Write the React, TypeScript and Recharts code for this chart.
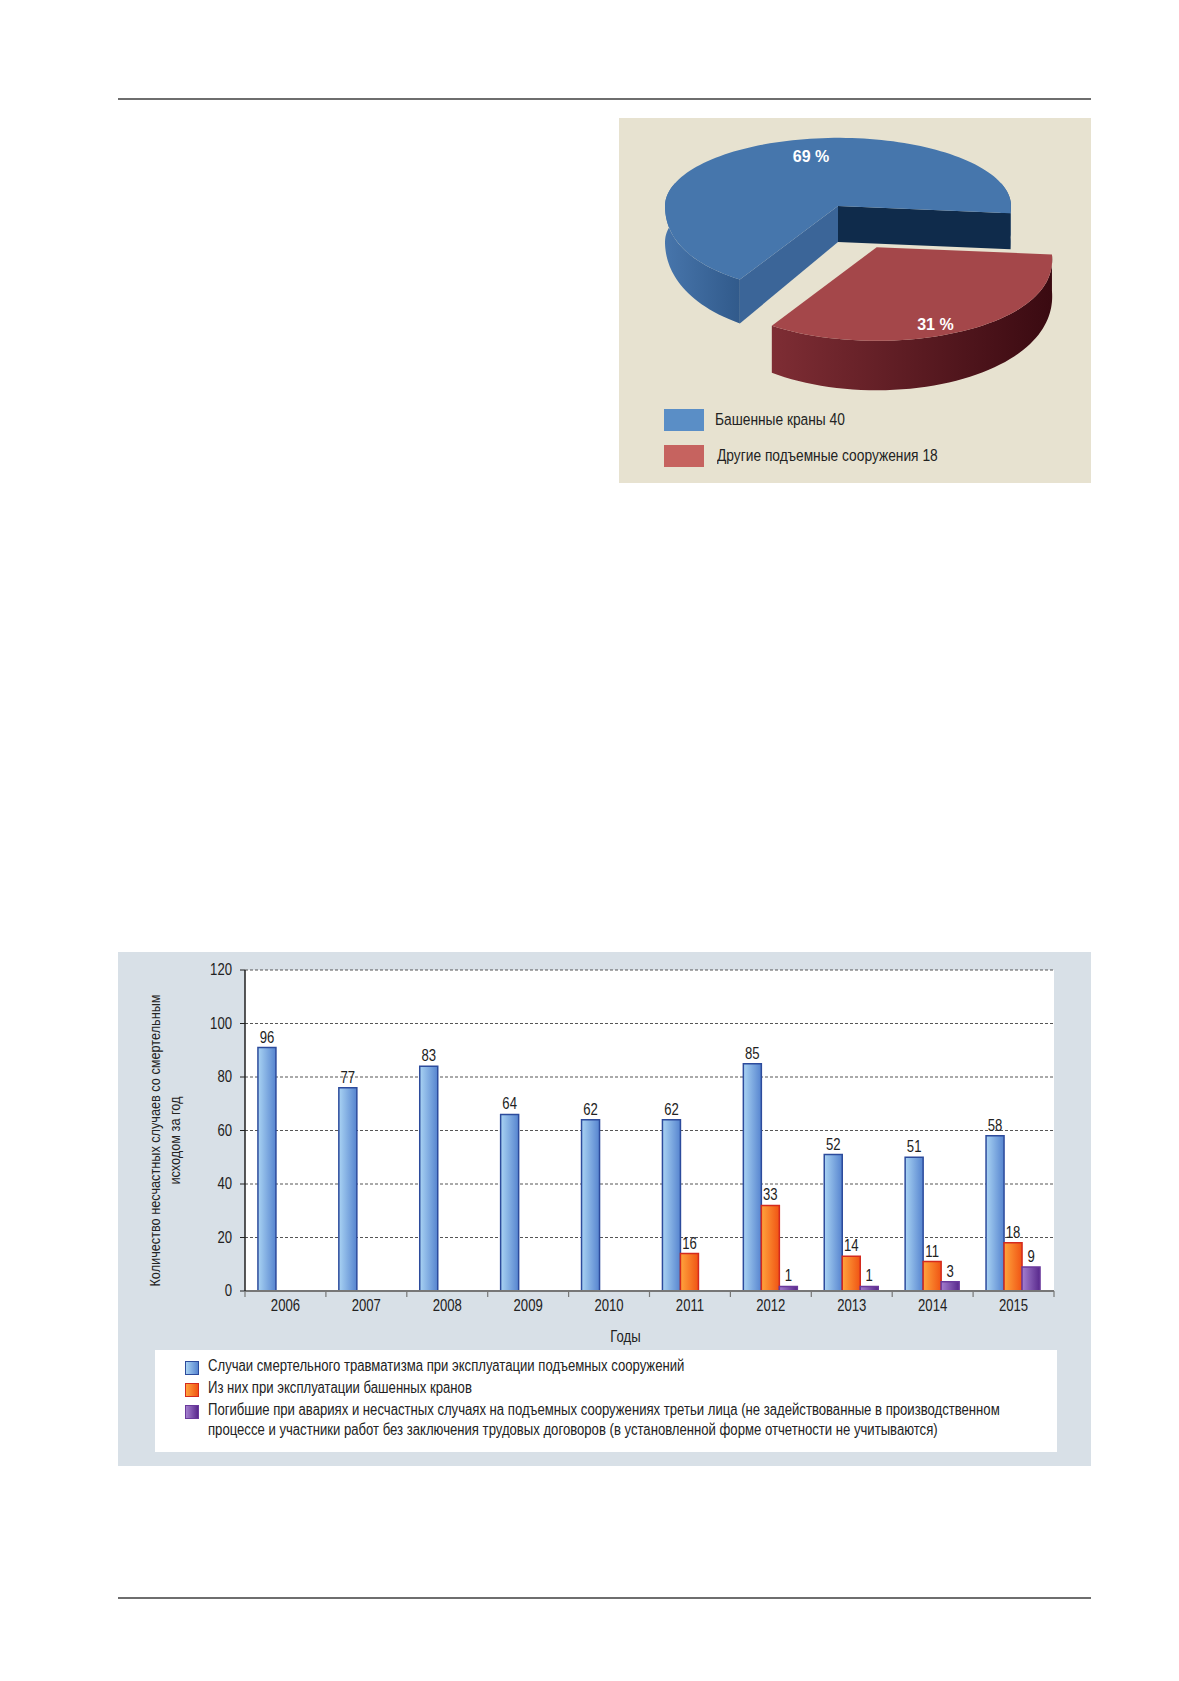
import React from 'react';
import { Bar, BarChart, CartesianGrid, LabelList, Pie, PieChart, XAxis, YAxis } from 'recharts';

// ---- bar chart data ----
const years = ['2006', '2007', '2008', '2009', '2010', '2011', '2012', '2013', '2014', '2015'];
// bar heights as drawn in the figure
const totalValues = [91, 76, 84, 66, 64, 64, 85, 51, 50, 58];
const towerValues = [null, null, null, null, null, 14, 32, 13, 11, 18];
const thirdValues = [null, null, null, null, null, 0, 1.7, 1.7, 3.5, 9];
// numbers printed above the bars
const totalLabels = [96, 77, 83, 64, 62, 62, 85, 52, 51, 58];
const towerLabels = [null, null, null, null, null, 16, 33, 14, 11, 18];
const thirdLabels = [null, null, null, null, null, 0, 1, 1, 3, 9];

const seriesNames = [
  'Случаи смертельного травматизма при эксплуатации подъемных сооружений',
  'Из них при эксплуатации башенных кранов',
  'Погибшие при авариях и несчастных случаях на подъемных сооружениях третьи лица (не задействованные в производственном процессе и участники работ без заключения трудовых договоров (в установленной форме отчетности не учитываются)',
];
const yTicks = [0, 20, 40, 60, 80, 100, 120];
const yTitle = ['Количество несчастных случаев со смертельным', 'исходом за год'];
const xTitle = 'Годы';

// ---- pie data ----
const pieNames = ['Башенные краны', 'Другие подъемные сооружения'];
const pieCounts = [40, 18];
const explodedSlice = 'Другие подъемные сооружения';

// the original uses a condensed grotesque: Liberation Sans squeezed horizontally
const FONT = "'Liberation Sans', Arial, sans-serif";
const SX = 0.82;
const squeeze = (x: number, y: number) => `translate(${x} ${y}) scale(${SX} 1) translate(${-x} ${-y})`;

const barData = years.map((year, i) => ({
  year,
  total: totalValues[i],
  totalLabel: totalLabels[i],
  tower: towerValues[i],
  towerLabel: towerLabels[i],
  third: thirdValues[i],
  thirdLabel: thirdLabels[i],
}));

const pieData = pieNames.map((name, i) => ({ name, value: pieCounts[i] }));

const seriesLook = [
  { key: 'total', grad: 'gBlue', from: '#a9d3f3', to: '#5684cf', stroke: '#2c4b9c' },
  { key: 'tower', grad: 'gOrange', from: '#ffa43c', to: '#f05414', stroke: '#d42a1e' },
  { key: 'third', grad: 'gPurple', from: '#a47fce', to: '#58288c', stroke: '#6a3a9c' },
];

const pieLook = [
  { top: '#4676ac', legend: '#5a8ec6', wall: ['#4775ab', '#315a8b'], startFace: '#0f2b4b', endFace: '#3b6598', lab: [0.33, 0.82] },
  { top: '#a4474a', legend: '#c6635f', wall: ['#7e2d34', '#3a0a11'], startFace: '#6b1f25', endFace: '#6b1f25', lab: [0.72, 1.28] },
];

const RAD = Math.PI / 180;
const TILT = 0.394; // vertical squash of the disc
const PERSP = 0.28; // front of the disc is drawn larger
const DEPTH = 36;
const EXPLODE = 82;
const EXPLODE_TILT = 0.57;
const EXPLODE_DEPTH = 0.37;

// draws the tilted slice (walls, cut faces, top) and its percentage from the sector geometry Recharts computes
function Slice3D(props: any) {
  const { cx, cy, outerRadius: r, startAngle: sa, endAngle: ea, name, percent } = props;
  const idx = Math.max(0, pieNames.indexOf(name));
  const look = pieLook[idx];
  const exploded = name === explodedSlice;
  const mid = (sa + ea) / 2;
  const cos = (a: number) => Math.cos(a * RAD);
  const sin = (a: number) => Math.sin(a * RAD);
  const ox = exploded ? cx + cos(mid) * EXPLODE : cx;
  const oy = exploded ? cy - sin(mid) * EXPLODE * EXPLODE_TILT : cy;
  const zc = exploded ? sin(mid) * EXPLODE * EXPLODE_DEPTH : 0;
  const scale = (z: number) => {
    const f = Math.max(0, -z) / r;
    return 1 + PERSP * f * f;
  };
  const s0 = scale(zc);
  const pt = (a: number, h = 0): [number, number] => {
    const s = scale(zc + r * sin(a));
    return [ox + r * cos(a) * s, oy - r * sin(a) * TILT * s + h * s];
  };
  const arc = (a1: number, a2: number, h: number) => {
    const n = Math.max(2, Math.ceil(Math.abs(a2 - a1) / 2));
    const pts: [number, number][] = [];
    for (let i = 0; i <= n; i++) pts.push(pt(a1 + ((a2 - a1) * i) / n, h));
    return pts;
  };
  const poly = (pts: [number, number][]) => pts.map((p) => `${p[0].toFixed(2)},${p[1].toFixed(2)}`).join(' ');

  // outer wall: front half plus a little margin, the rest is hidden under the top
  const walls: [number, number][] = [];
  for (let k = -1; k <= 1; k++) {
    const lo = Math.max(sa, 160 + 360 * k);
    const hi = Math.min(ea, 380 + 360 * k);
    if (hi > lo) walls.push([lo, hi]);
  }
  const face = (a: number): [number, number][] => [[ox, oy], pt(a), pt(a, DEPTH), [ox, oy + DEPTH * s0]];
  const gid = `pieWall${idx}`;

  const lx = ox + cos(mid) * r * look.lab[0];
  const ly = oy - sin(mid) * r * TILT * look.lab[1];

  return (
    <g>
      <defs>
        <linearGradient id={gid} x1="0" y1="0" x2="1" y2="0">
          <stop offset="0%" stopColor={look.wall[0]} />
          <stop offset="100%" stopColor={look.wall[1]} />
        </linearGradient>
      </defs>
      {walls.map(([lo, hi]) => (
        <polygon key={lo} points={poly([...arc(lo, hi, 0), ...arc(hi, lo, DEPTH)])} fill={`url(#${gid})`} />
      ))}
      {cos(sa) > 0 && <polygon points={poly(face(sa))} fill={look.startFace} />}
      {cos(ea) < 0 && <polygon points={poly(face(ea))} fill={look.endFace} />}
      <polygon points={poly([[ox, oy], ...arc(sa, ea, 0)])} fill={look.top} />
      <text
        x={lx}
        y={ly}
        textAnchor="middle"
        dominantBaseline="central"
        fill="#fff"
        style={{ fontFamily: FONT, fontWeight: 700, fontSize: 16 }}
      >
        {`${Math.round(percent * 100)} %`}
      </text>
    </g>
  );
}

function YearTick(props: any) {
  const { x, y, payload, index } = props;
  const half = payload.offset || 40.45;
  const axisY = y - 8;
  const ty = y + 7;
  return (
    <g>
      <line x1={x - half} y1={axisY} x2={x - half} y2={axisY + 6} stroke="#777" strokeWidth={1.2} />
      {index === years.length - 1 && (
        <line x1={x + half} y1={axisY} x2={x + half} y2={axisY + 6} stroke="#777" strokeWidth={1.2} />
      )}
      <text
        x={x}
        y={ty}
        transform={squeeze(x, ty)}
        textAnchor="middle"
        dominantBaseline="central"
        fill="#222"
        style={{ fontFamily: FONT, fontSize: 16 }}
      >
        {payload.value}
      </text>
    </g>
  );
}

function ValueTick(props: any) {
  const { x, y, payload } = props;
  return (
    <text
      x={x}
      y={y}
      transform={squeeze(x, y)}
      textAnchor="end"
      dominantBaseline="central"
      fill="#222"
      style={{ fontFamily: FONT, fontSize: 16 }}
    >
      {payload.value}
    </text>
  );
}

function BarValue(props: any) {
  const { value } = props;
  if (value === null || value === undefined) return null;
  const vb = props.viewBox && props.viewBox.width !== undefined ? props.viewBox : props;
  const x = Number(vb.x) + Number(vb.width) / 2;
  const y = Number(vb.y) - 5;
  return (
    <text
      x={x}
      y={y}
      transform={squeeze(x, y)}
      textAnchor="middle"
      fill="#222"
      style={{ fontFamily: FONT, fontSize: 16 }}
    >
      {value}
    </text>
  );
}

function YTitle(props: any) {
  const vb = props.viewBox || { x: 0, y: 18, width: 127, height: 321 };
  const cy = vb.y + vb.height / 2 + 10;
  return (
    <g style={{ fontFamily: FONT, fontSize: 15.5 }} fill="#222">
      {yTitle.map((line, i) => {
        const x = vb.x + 37 + i * 20;
        return (
          <text
            key={i}
            x={x}
            y={cy}
            transform={`rotate(-90 ${x} ${cy}) ${squeeze(x, cy)}`}
            textAnchor="middle"
            dominantBaseline="central"
          >
            {line}
          </text>
        );
      })}
    </g>
  );
}

function XTitle(props: any) {
  const vb = props.viewBox || { x: 127, y: 339, width: 809, height: 30 };
  const x = vb.x + vb.width / 2 - 24;
  const y = vb.y + 46;
  return (
    <text
      x={x}
      y={y}
      transform={squeeze(x, y)}
      textAnchor="middle"
      dominantBaseline="central"
      fill="#222"
      style={{ fontFamily: FONT, fontSize: 16 }}
    >
      {xTitle}
    </text>
  );
}

const narrowHtml = (width: number): React.CSSProperties => ({
  width: width / SX,
  transform: `scaleX(${SX})`,
  transformOrigin: 'left center',
});

export default function App() {
  return (
    <div style={{ position: 'absolute', left: 0, top: 0, width: 1179, height: 1681, background: '#fff' }}>
      <div style={{ position: 'absolute', left: 118, top: 98, width: 973, height: 2, background: '#6e6e6e' }} />
      <div style={{ position: 'absolute', left: 118, top: 1597, width: 973, height: 2, background: '#6e6e6e' }} />

      {/* pie panel */}
      <div style={{ position: 'absolute', left: 619, top: 118, width: 472, height: 365, background: '#e7e2d0' }}>
        <PieChart width={472} height={365} margin={{ top: 0, right: 0, bottom: 0, left: 0 }}>
          <Pie
            data={pieData}
            dataKey="value"
            nameKey="name"
            cx={219}
            cy={88}
            outerRadius={173}
            startAngle={-6}
            endAngle={354}
            fill="none"
            stroke="none"
            label={Slice3D}
            labelLine={false}
            isAnimationActive={false}
          />
        </PieChart>
        {pieNames.map((name, i) => (
          <div key={name} style={{ position: 'absolute', left: 45, top: 291 + i * 36, height: 22, display: 'flex', alignItems: 'center' }}>
            <div style={{ width: 40, height: 22, background: pieLook[i].legend, flex: 'none' }} />
            <div style={{ marginLeft: 11 + i * 2, fontFamily: FONT, fontSize: 16.8, color: '#222', whiteSpace: 'nowrap', ...narrowHtml(330) }}>
              {`${name} ${pieCounts[i]}`}
            </div>
          </div>
        ))}
      </div>

      {/* bar panel */}
      <div style={{ position: 'absolute', left: 118, top: 952, width: 973, height: 514, background: '#d8e0e7' }}>
        <BarChart
          width={973}
          height={514}
          data={barData}
          margin={{ top: 18, right: 37, bottom: 145, left: 0 }}
          barCategoryGap="16%"
          barGap={0}
        >
          <defs>
            {seriesLook.map((s) => (
              <linearGradient key={s.grad} id={s.grad} x1="0" y1="0" x2="1" y2="0">
                <stop offset="0%" stopColor={s.from} />
                <stop offset="100%" stopColor={s.to} />
              </linearGradient>
            ))}
          </defs>
          <CartesianGrid vertical={false} fill="#fff" stroke="#555" strokeDasharray="3 2" />
          <XAxis
            dataKey="year"
            height={30}
            interval={0}
            tickSize={6}
            tickMargin={2}
            tickLine={false}
            axisLine={{ stroke: '#777', strokeWidth: 2 }}
            tick={<YearTick />}
            label={{ content: <XTitle /> }}
          />
          <YAxis
            width={127}
            domain={[0, 120]}
            ticks={yTicks}
            interval={0}
            tickSize={5}
            tickMargin={8}
            tickLine={{ stroke: '#222' }}
            axisLine={{ stroke: '#222', strokeWidth: 1.5 }}
            tick={<ValueTick />}
            label={{ content: <YTitle /> }}
          />
          <YAxis
            yAxisId="right"
            orientation="right"
            width={0}
            domain={[0, 120]}
            tick={false}
            tickLine={false}
            axisLine={{ stroke: '#222', strokeWidth: 1.5 }}
          />
          {seriesLook.map((s) => (
            <Bar
              key={s.key}
              dataKey={s.key}
              fill={`url(#${s.grad})`}
              stroke={s.stroke}
              strokeWidth={1.5}
              isAnimationActive={false}
            >
              <LabelList dataKey={`${s.key}Label`} content={<BarValue />} />
            </Bar>
          ))}
        </BarChart>

        <div
          style={{
            position: 'absolute',
            left: 37,
            top: 398,
            width: 902,
            height: 102,
            background: '#fff',
            fontFamily: FONT,
            fontSize: 16,
            color: '#222',
          }}
        >
          {seriesNames.map((name, i) => (
            <div key={i} style={{ position: 'absolute', left: 30, top: 9 + i * 22, display: 'flex' }}>
              <div
                style={{
                  width: 12,
                  height: 12,
                  marginTop: 2,
                  flex: 'none',
                  border: `1.5px solid ${seriesLook[i].stroke}`,
                  background: `linear-gradient(to right, ${seriesLook[i].from}, ${seriesLook[i].to})`,
                }}
              />
              <div style={{ marginLeft: 9, lineHeight: '20px', marginTop: -3, ...narrowHtml(810) }}>{name}</div>
            </div>
          ))}
        </div>
      </div>
    </div>
  );
}
